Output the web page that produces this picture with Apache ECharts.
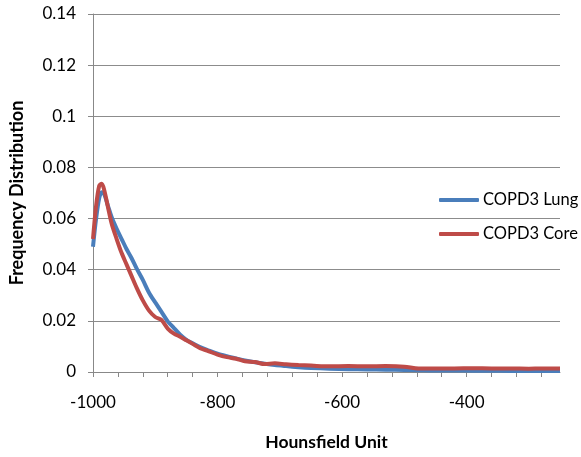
<!DOCTYPE html>
<html>
<head>
<meta charset="utf-8">
<script src="https://cdn.jsdelivr.net/npm/echarts@6/dist/echarts.min.js"></script>
<style>
  html, body { margin: 0; padding: 0; background: #fff; }
  #chart { width: 581px; height: 457px; }
</style>
</head>
<body>
<div id="chart"></div>
<script>
// Hounsfield unit positions of the sampled points
const hu = [-1000, -995, -990, -986, -982, -976, -970, -962, -954, -946, -938, -930, -920, -910,
  -900, -890, -880, -870, -860, -850, -840, -828, -815, -800, -785, -770, -756, -740, -724, -708,
  -690, -670, -650, -620, -590, -560, -530, -500, -477, -450, -420, -390, -360, -330, -300, -280, -250]

const lung = [0.049, 0.060, 0.068, 0.0703, 0.0695, 0.065, 0.0605, 0.056, 0.052, 0.048, 0.0445, 0.0405, 0.036, 0.031,
  0.0272, 0.0235, 0.0198, 0.0172, 0.0146, 0.0126, 0.0112, 0.0097, 0.0085, 0.0072, 0.0062, 0.0053, 0.0045, 0.0038, 0.0032, 0.0027,
  0.0023, 0.0019, 0.0016, 0.0013, 0.0011, 0.0010, 0.0009, 0.0008, 0.0007, 0.0006, 0.0006, 0.0005, 0.0005, 0.0004, 0.0004, 0.0004, 0.0004]

const core = [0.052, 0.065, 0.0728, 0.0736, 0.0712, 0.0645, 0.058, 0.052, 0.0465, 0.042, 0.0375, 0.033, 0.028, 0.024,
  0.0215, 0.0203, 0.0170, 0.0150, 0.0138, 0.0124, 0.0110, 0.0093, 0.0082, 0.0068, 0.0058, 0.0052, 0.0042, 0.0039, 0.0031, 0.0034,
  0.0030, 0.0027, 0.0025, 0.0022, 0.0023, 0.0022, 0.0023, 0.0021, 0.0014, 0.0014, 0.0014, 0.0015, 0.0014, 0.0014, 0.0013, 0.0014, 0.0014]

const seriesNames = ["COPD3 Lung", "COPD3 Core"]

const font = "Lato, 'Open Sans', sans-serif"
const chart = echarts.init(document.getElementById("chart"))
chart.setOption({
  animation: false,
  color: ["#4a7ebb", "#be4b48"],
  grid: { left: 92, right: 21, top: 14, bottom: 85 },
  legend: {
    orient: "vertical",
    left: 439,
    top: 190,
    padding: 0,
    icon: "roundRect",
    itemWidth: 40,
    itemHeight: 4,
    itemGap: 14,
    textStyle: { fontFamily: font, fontSize: 16.5, color: "#000", lineHeight: 20, padding: [0, 0, 0, -1] },
    data: seriesNames
  },
  xAxis: {
    type: "value",
    min: -1000,
    max: -250,
    interval: 40,
    name: "Hounsfield Unit",
    nameLocation: "middle",
    nameGap: 61,
    nameTextStyle: { fontFamily: font, fontSize: 17.5, fontWeight: "bold", color: "#000" },
    axisLine: { show: true, onZero: false, lineStyle: { color: "#888", width: 1 } },
    axisTick: { show: true, length: 5, lineStyle: { color: "#888" } },
    axisLabel: {
      margin: 22,
      fontFamily: font,
      fontSize: 17,
      color: "#000",
      showMaxLabel: false,
      formatter: v => (v % 200 === 0 ? String(v) : "")
    },
    splitLine: { show: false }
  },
  yAxis: {
    type: "value",
    min: 0,
    max: 0.14,
    interval: 0.02,
    name: "Frequency Distribution",
    nameLocation: "middle",
    nameGap: 67,
    nameTextStyle: { fontFamily: font, fontSize: 18, fontWeight: "bold", color: "#000" },
    axisLine: { show: true, lineStyle: { color: "#888", width: 1 } },
    axisTick: { show: true, length: 5, lineStyle: { color: "#888" } },
    axisLabel: { margin: 17, fontFamily: font, fontSize: 17, color: "#000" },
    splitLine: { lineStyle: { color: "#8c8c8c", width: 1 } }
  },
  series: [
    {
      name: seriesNames[0],
      type: "line",
      smooth: 0.3,
      showSymbol: false,
      lineStyle: { width: 4 },
      data: hu.map((x, i) => [x, lung[i]])
    },
    {
      name: seriesNames[1],
      type: "line",
      smooth: 0.3,
      showSymbol: false,
      lineStyle: { width: 4 },
      data: hu.map((x, i) => [x, core[i]])
    }
  ]
})
</script>
</body>
</html>
